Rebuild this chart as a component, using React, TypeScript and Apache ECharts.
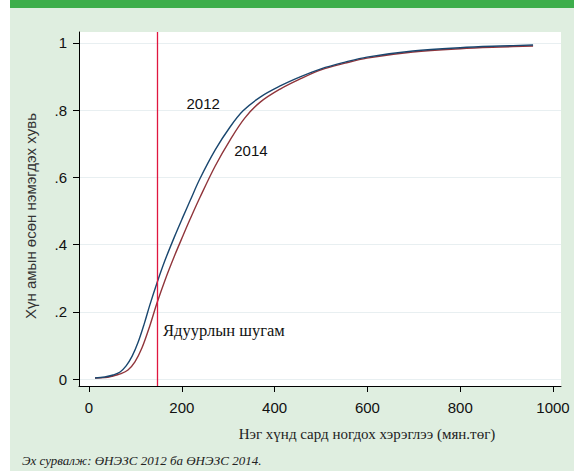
import React, { useEffect, useRef } from "react";
import * as echarts from "echarts";

const xTicks = [0, 200, 400, 600, 800, 1000];
const yTicks = [0, 0.2, 0.4, 0.6, 0.8, 1];
const yTickLabels = ["0", ".2", ".4", ".6", ".8", "1"];

const consumption2012 = [13, 34, 52, 67, 80, 93, 106, 119, 131, 146.5, 164, 185, 203, 218, 239, 272, 304, 332, 369, 412, 455, 500, 552, 599, 698, 800, 886, 957];
const share2012 = [0.003, 0.006, 0.012, 0.021, 0.039, 0.068, 0.11, 0.164, 0.22, 0.286, 0.354, 0.426, 0.484, 0.531, 0.596, 0.682, 0.75, 0.798, 0.839, 0.872, 0.899, 0.923, 0.943, 0.958, 0.976, 0.986, 0.991, 0.994];

const consumption2014 = [13, 34, 52, 67, 84, 99, 114, 131, 146.5, 164, 185, 203, 218, 239, 272, 304, 336, 369, 412, 455, 500, 552, 599, 698, 800, 886, 957];
const share2014 = [0.003, 0.004, 0.009, 0.015, 0.027, 0.051, 0.092, 0.158, 0.226, 0.295, 0.369, 0.428, 0.476, 0.54, 0.634, 0.711, 0.777, 0.824, 0.863, 0.893, 0.92, 0.94, 0.955, 0.973, 0.983, 0.988, 0.991];

const povertyLine = 146.5;

const yAxisTitle = "Хүн амын өсөн нэмэгдэх хувь";
const xAxisTitle = "Нэг хүнд сард ногдох хэрэглээ (мян.төг)";
const sourceNote = "Эх сурвалж: ӨНЭЗС 2012 ба ӨНЭЗС 2014.";
const label2012 = { text: "2012", x: 246, y: 0.821 };
const label2014 = { text: "2014", x: 349, y: 0.679 };
const povertyLabel = { text: "Ядуурлын шугам", x: 159.5, y: 0.143 };

const SANS = "'Liberation Sans', Arial, sans-serif";
const SERIF = "'Liberation Serif', 'Times New Roman', serif";

export default function App() {
  const ref = useRef<HTMLDivElement>(null);
  useEffect(() => {
    if (!ref.current) return;
    const chart = echarts.init(ref.current, undefined, { renderer: "svg" });
    const zip = (xs: number[], ys: number[]) => xs.map((x, i) => [x, ys[i]]);
    chart.setOption({
      animation: false,
      backgroundColor: "#ffffff",
      graphic: [
        { type: "rect", z: -10, shape: { x: 10, y: 0, width: 564, height: 8 }, style: { fill: "#3dae4b" } },
        { type: "rect", z: -10, shape: { x: 10, y: 8, width: 564, height: 463 }, style: { fill: "#dfeee0" } },
        {
          type: "text", z: 100, x: 30, y: 216, rotation: Math.PI / 2,
          style: { text: yAxisTitle, font: `15px ${SANS}`, fill: "#333", textAlign: "center", textVerticalAlign: "middle" },
        },
        {
          type: "text", z: 100, x: 367, y: 434,
          style: { text: xAxisTitle, font: `15px ${SERIF}`, fill: "#222", textAlign: "center", textVerticalAlign: "middle" },
        },
        {
          type: "text", z: 100, x: 22, y: 460,
          style: { text: sourceNote, font: `italic 13px ${SERIF}`, fill: "#222", textAlign: "left", textVerticalAlign: "middle" },
        },
      ],
      grid: {
        left: 79, top: 32, width: 482, height: 354,
        show: true, backgroundColor: "#ffffff", borderWidth: 0, containLabel: false,
      },
      xAxis: {
        type: "value",
        min: -21.55, max: 1017.2,
        axisLine: { onZero: false, lineStyle: { color: "#000", width: 1 } },
        axisTick: { show: true, inside: false, length: 6, customValues: xTicks, lineStyle: { color: "#000" } },
        axisLabel: {
          customValues: xTicks, margin: 14, fontSize: 15, fontFamily: SANS, color: "#111",
          formatter: (v: number) => String(Math.round(v)),
        },
        splitLine: { show: false },
      },
      yAxis: {
        type: "value",
        min: -0.0208, max: 1.0327,
        axisLine: { show: true, onZero: false, lineStyle: { color: "#000", width: 1 } },
        axisTick: { show: true, inside: false, length: 6, customValues: yTicks, lineStyle: { color: "#000" } },
        axisLabel: {
          customValues: yTicks, margin: 12, fontSize: 15, fontFamily: SANS, color: "#111",
          formatter: (v: number) => {
            const i = yTicks.findIndex((t) => Math.abs(t - v) < 1e-6);
            return i >= 0 ? yTickLabels[i] : "";
          },
        },
        splitLine: { show: true, lineStyle: { color: "#e8eff1", width: 1 } },
      },
      series: [
        {
          type: "line", name: "2014", data: zip(consumption2014, share2014),
          showSymbol: false, smooth: 0.35,
          lineStyle: { color: "#90353b", width: 1.4 }, z: 3,
          markPoint: {
            symbol: "circle", symbolSize: 0, silent: true,
            data: [
              { coord: [label2014.x, label2014.y], label: { show: true, formatter: label2014.text, position: "inside", fontSize: 15, fontFamily: SANS, color: "#111" } },
            ],
          },
        },
        {
          type: "line", name: "2012", data: zip(consumption2012, share2012),
          showSymbol: false, smooth: 0.35,
          lineStyle: { color: "#1a476f", width: 1.4 }, z: 4,
          markPoint: {
            symbol: "circle", symbolSize: 0, silent: true,
            data: [
              { coord: [label2012.x, label2012.y], label: { show: true, formatter: label2012.text, position: "inside", fontSize: 15, fontFamily: SANS, color: "#111" } },
              { coord: [povertyLabel.x, povertyLabel.y], label: { show: true, formatter: povertyLabel.text, position: "right", distance: 0, fontSize: 16.5, fontFamily: SERIF, color: "#111" } },
            ],
          },
          markLine: {
            silent: true, symbol: ["none", "none"],
            label: { show: false },
            lineStyle: { color: "#e0163f", width: 1.3, type: "solid", opacity: 1 },
            data: [{ xAxis: povertyLine, lineStyle: { color: "#e0163f", width: 1.3 } }],
          },
        },
      ],
    });
    return () => chart.dispose();
  }, []);
  return (
    <div
      ref={ref}
      style={{ position: "fixed", left: 0, top: 0, width: 574, height: 471 }}
    />
  );
}
